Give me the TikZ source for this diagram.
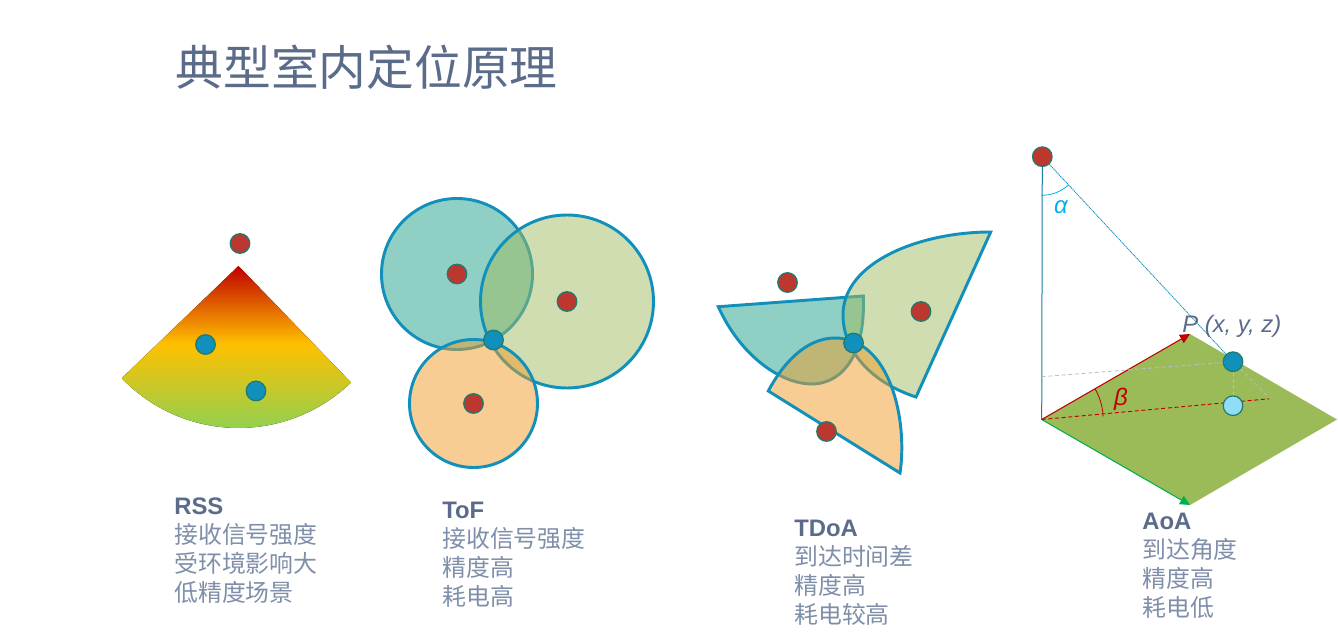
\documentclass[tikz,border=0pt]{standalone}
\usepackage{fontspec}
\setmainfont{Liberation Sans}
\newfontfamily\cjk{Noto Sans CJK SC}
\newfontfamily\latinhead{Liberation Sans}
\usetikzlibrary{arrows.meta,backgrounds}
\definecolor{slate}{HTML}{5B6B8A}
\definecolor{slatelight}{HTML}{7F8FA9}
\definecolor{edgeblue}{HTML}{1190BC}
\definecolor{stemblue}{HTML}{1B7FA3}
\definecolor{dotedge}{HTML}{1F7A70}
\definecolor{dotred}{HTML}{BC382E}
\definecolor{tealfill}{HTML}{20A18A}
\definecolor{greenfill}{HTML}{A0BC62}
\definecolor{orangefill}{HTML}{F09C28}
\definecolor{plane}{HTML}{9BBB59}
\definecolor{lightdot}{HTML}{8FDDF7}
\definecolor{hintline}{HTML}{B4BDD2}
\definecolor{alphacol}{HTML}{00B0F0}
\definecolor{betacol}{HTML}{C00000}
\definecolor{arrowgreen}{HTML}{00B050}
\pgfdeclareverticalshading{rssfade}{100bp}{
  rgb(0bp)=(0.573,0.816,0.314);
  rgb(25bp)=(0.573,0.816,0.314);
  rgb(51bp)=(1,0.753,0);
  rgb(75bp)=(0.753,0,0);
  rgb(100bp)=(0.753,0,0)}
\tikzset{
  reddot/.style={circle,draw=dotedge,fill=dotred,line width=0.9pt,minimum size=14.7pt,inner sep=0pt},
  bluedot/.style={circle,draw=dotedge,fill=edgeblue,line width=0.9pt,minimum size=14.7pt,inner sep=0pt},
  palehdot/.style={circle,draw=dotedge,fill=lightdot,line width=0.9pt,minimum size=14.7pt,inner sep=0pt},
  zone/.style={draw=edgeblue,line width=2.2pt,fill opacity=0.5,line join=miter},
  caption/.style={anchor=north west,align=left,inner sep=0pt,text=slatelight,font=\cjk\fontsize{17.9}{21.75}\selectfont},
  planearrow/.style={-{Triangle[length=7.5pt,width=7pt]},line width=0.8pt},
}
\newcommand{\hd}[1]{{\latinhead\bfseries\color{slate}#1}}
\begin{document}
\begin{tikzpicture}[x=0.75pt,y=-0.75pt]
\useasboundingbox (0,0) rectangle (1338,634);
\begin{scope}[on background layer]
\fill[white] (0,0) rectangle (1338,634);
\end{scope}
\node[anchor=west,inner sep=0pt,text=slate,font=\cjk\fontsize{35.8}{40}\selectfont] (title) at (175.5,67) {典型室内定位原理};

% RSS
\fill[shading=rssfade] (238.5,266) -- (122,378)
  -- plot[domain=136:46,samples=40] ({238.5+162*cos(\x)},{266+162*sin(\x)}) -- cycle;
\node[reddot] (rsstx) at (240,243.5) {};
\node[bluedot] (rssa) at (205.5,344.5) {};
\node[bluedot] (rssb) at (256,391) {};
\node[caption] (rsscap) at (174,498) {\hd{RSS}\\接收信号强度\\受环境影响大\\低精度场景};

% ToF
\path[zone,fill=tealfill] (457,274) circle[radius=75.5];
\path[zone,fill=greenfill] (567,301.5) circle[radius=86.5];
\path[zone,fill=orangefill] (473.5,403.5) circle[radius=64];
\node[reddot] (tofa) at (457,274) {};
\node[reddot] (tofb) at (567,301.5) {};
\node[reddot] (tofc) at (473.5,403.5) {};
\node[bluedot] (tofp) at (493.5,340) {};
\node[caption] (tofcap) at (442,502) {\hd{ToF}\\接收信号强度\\精度高\\耗电高};

% TDoA
\path[zone,fill=tealfill] (718.3,306.7) .. controls (740,355) and (780,384) .. (812,384)
  .. controls (835,384) and (866,365) .. (863.3,296) -- cycle;
\path[zone,fill=greenfill] (990.7,232) .. controls (920,232) and (843,262) .. (843,315)
  .. controls (843,350) and (870,382) .. (916,397) -- cycle;
\path[zone,fill=orangefill] (900,473) .. controls (908,420) and (890,338) .. (835,338)
  .. controls (805,338) and (782,365) .. (768.3,391) -- cycle;
\node[reddot] (tdoaa) at (787.5,282.5) {};
\node[reddot] (tdoab) at (921,311.5) {};
\node[reddot] (tdoac) at (826.5,431.5) {};
\node[bluedot] (tdoap) at (853.5,343) {};
\node[caption] (tdoacap) at (794,520) {\hd{TDoA}\\到达时间差\\精度高\\耗电较高};

% AoA
\coordinate (orig) at (1041.7,419.5);
\coordinate (top) at (1190,334);
\coordinate (right) at (1337,419.5);
\coordinate (bottom) at (1190,505);
\coordinate (foot) at (1270,398.7);
\coordinate (wall) at (1041.7,376.7);
\node[reddot] (aoatx) at (1042.3,156.7) {};
\node[bluedot] (aoap) at (1233,361.7) {};
\node[palehdot] (aoaq) at (1233,405.7) {};
\begin{scope}[on background layer]
\fill[plane] (orig) -- (top) -- (right) -- (bottom) -- cycle;
\draw[stemblue,line width=0.75pt] (aoatx) -- (orig);
\draw[edgeblue,line width=0.6pt,dash pattern=on 1pt off 0.5pt] (aoatx) -- (aoap);
\draw[planearrow,betacol] (orig) -- (top);
\draw[planearrow,arrowgreen] (orig) -- (bottom);
\draw[betacol,line width=0.7pt,densely dashed] (orig) -- (foot);
\draw[hintline,line width=0.6pt,densely dashed] (wall) -- (aoap);
\draw[hintline,line width=0.6pt,densely dashed] (aoap) -- (foot);
\draw[hintline,line width=0.6pt,densely dashed] (aoap) -- (aoaq);
\end{scope}
\draw[alphacol,line width=0.6pt] plot[domain=92:47,samples=20] ({1042.3+38.5*cos(\x)},{156.7+38.5*sin(\x)});
\draw[betacol,line width=0.6pt] plot[domain=-30:-3,samples=20] ({1041.7+61.5*cos(\x)},{419.5+61.5*sin(\x)});
\node[inner sep=0pt,text=alphacol,font=\itshape\fontsize{18}{20}\selectfont] (alpha) at (1061,207) {α};
\node[inner sep=0pt,text=betacol,font=\itshape\fontsize{18}{20}\selectfont] (beta) at (1121,399) {β};
\node[anchor=west,inner sep=0pt,text=slate,font=\itshape\fontsize{17.9}{20}\selectfont] (plabel) at (1182,326.5) {P (x, y, z)};
\node[caption] (aoacap) at (1142,513) {\hd{AoA}\\到达角度\\精度高\\耗电低};
\end{tikzpicture}
\end{document}
